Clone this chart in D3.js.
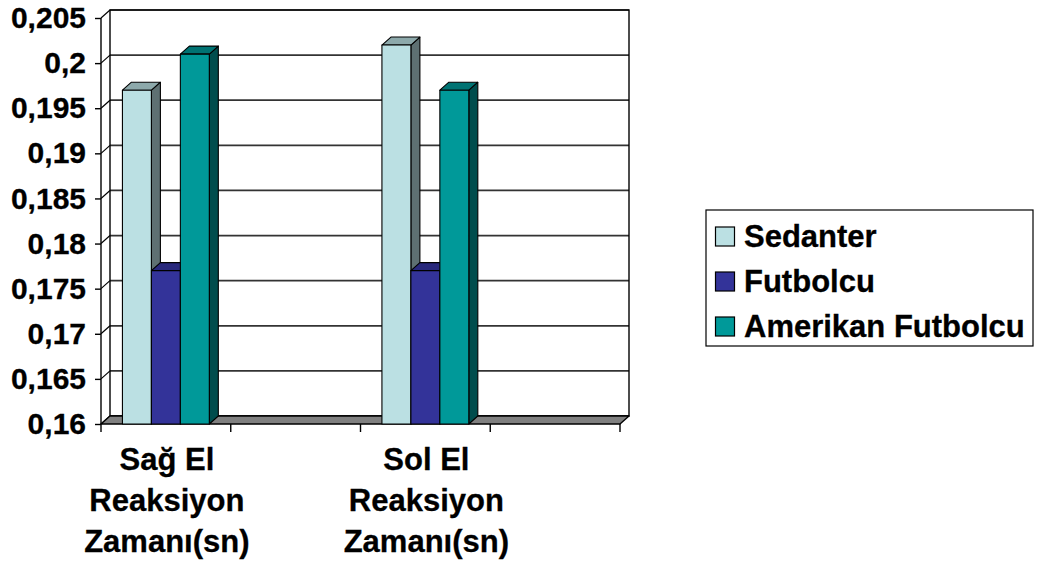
<!DOCTYPE html>
<html>
<head>
<meta charset="utf-8">
<script src="https://cdn.jsdelivr.net/npm/d3@7"></script>
<style>
  html, body { margin: 0; padding: 0; background: #fff; }
  svg { display: block; font-family: "Liberation Sans", Arial, sans-serif; font-weight: bold; }
  text { stroke: #000; stroke-width: 0.3px; }
</style>
</head>
<body>
<svg id="chart" width="1037" height="563"></svg>
<script>
// Category slots along the floor (two slots are left blank)
const categories = ["Sağ El Reaksiyon Zamanı(sn)", "", "Sol El Reaksiyon Zamanı(sn)", ""];
const seriesNames = ["Sedanter", "Futbolcu", "Amerikan Futbolcu"];
// Reaction times (s) per series, one value per category slot (null = empty slot)
const sedanter = [0.197, null, 0.202, null];
const futbolcu = [0.177, null, 0.177, null];
const amerikanFutbolcu = [0.201, null, 0.197, null];
const yTicks = [0.16, 0.165, 0.17, 0.175, 0.18, 0.185, 0.19, 0.195, 0.2, 0.205];

const seriesValues = [sedanter, futbolcu, amerikanFutbolcu];
const palette = [
  { front: "#BBE0E3", side: "#5E7072", top: "#8DA9AB" },
  { front: "#333399", side: "#1A1A4D", top: "#28287C" },
  { front: "#009999", side: "#004D4D", top: "#007373" }
];

const svg = d3.select("#chart");
const plotLeft = 101, plotRight = 620, plotBottom = 424, plotTop = 18;
const dx = 9, dy = -8; // depth offset of the 3-D box

const y = d3.scaleLinear().domain([0.16, 0.205]).range([plotBottom, plotTop]);
const x = d3.scaleBand().domain(d3.range(categories.length)).range([plotLeft, plotRight]).padding(0);
const xs = d3.scaleBand().domain(d3.range(seriesNames.length)).range([0, x.bandwidth()])
  .paddingInner(0).paddingOuter(0.74);

const fmt = v => String(+v.toFixed(3)).replace(".", ",");

// Back wall
svg.append("rect")
  .attr("x", plotLeft + dx).attr("y", plotTop + dy)
  .attr("width", plotRight - plotLeft).attr("height", plotBottom - plotTop)
  .attr("fill", "#fff");

// Gridlines on the back wall
svg.append("g").selectAll("line").data(yTicks).join("line")
  .attr("x1", plotLeft + dx).attr("x2", plotRight + dx)
  .attr("y1", d => y(d) + dy).attr("y2", d => y(d) + dy)
  .attr("stroke", "#333").attr("stroke-width", 1.7);

svg.append("rect")
  .attr("x", plotLeft + dx).attr("y", plotTop + dy)
  .attr("width", plotRight - plotLeft).attr("height", plotBottom - plotTop)
  .attr("fill", "none").attr("stroke", "#000").attr("stroke-width", 1.4);

// Side wall gridlines
svg.append("g").selectAll("line").data(yTicks).join("line")
  .attr("x1", plotLeft).attr("y1", d => y(d))
  .attr("x2", plotLeft + dx).attr("y2", d => y(d) + dy)
  .attr("stroke", "#000").attr("stroke-width", 1.2);

// Floor
svg.append("path")
  .attr("d", `M${plotLeft},${plotBottom}L${plotRight},${plotBottom}L${plotRight + dx},${plotBottom + dy}L${plotLeft + dx},${plotBottom + dy}Z`)
  .attr("fill", "#808080").attr("stroke", "#000").attr("stroke-width", 1.4)
  .attr("stroke-linejoin", "round");

// Bars
const barsG = svg.append("g");
categories.forEach((c, ci) => {
  seriesValues.forEach((vals, si) => {
    const v = vals[ci];
    if (v == null) return;
    const x0 = x(ci) + xs(si), x1 = x0 + xs.bandwidth();
    const yt = y(v), yb = y(0.16);
    const col = palette[si];
    const g = barsG.append("g").attr("stroke", "#000").attr("stroke-width", 1.1).attr("stroke-linejoin", "round");
    g.append("path")
      .attr("d", `M${x1},${yb}L${x1 + dx},${yb + dy}L${x1 + dx},${yt + dy}L${x1},${yt}Z`)
      .attr("fill", col.side);
    g.append("path")
      .attr("d", `M${x0},${yt}L${x0 + dx},${yt + dy}L${x1 + dx},${yt + dy}L${x1},${yt}Z`)
      .attr("fill", col.top);
    g.append("rect")
      .attr("x", x0).attr("y", yt).attr("width", x1 - x0).attr("height", yb - yt)
      .attr("fill", col.front);
  });
});

// Value axis
svg.append("line")
  .attr("x1", plotLeft).attr("x2", plotLeft).attr("y1", plotTop).attr("y2", plotBottom)
  .attr("stroke", "#000").attr("stroke-width", 1.4);
const yAxisG = svg.append("g").attr("transform", `translate(${plotLeft},0)`)
  .call(d3.axisLeft(y).tickValues(yTicks).tickSize(6).tickPadding(8).tickFormat(fmt));
yAxisG.select(".domain").remove();
yAxisG.selectAll(".tick line").attr("stroke", "#000").attr("stroke-width", 1.4);
yAxisG.selectAll(".tick text")
  .attr("font-family", "Liberation Sans, Arial, sans-serif")
  .attr("font-weight", "bold").attr("font-size", 30).attr("fill", "#000")
  .attr("dx", -1);

// Category axis ticks
const catEdges = d3.range(categories.length + 1).map(i => plotLeft + i * x.step());
svg.append("g").selectAll("line").data(catEdges).join("line")
  .attr("x1", d => d).attr("x2", d => d).attr("y1", plotBottom).attr("y2", plotBottom + 8)
  .attr("stroke", "#000").attr("stroke-width", 1.4);

// Category labels, word-wrapped to the slot width
const labelG = svg.append("g");
categories.forEach((c, ci) => {
  if (!c) return;
  const cx = x(ci) + x.bandwidth() / 2 + 1;
  const t = labelG.append("text")
    .attr("x", cx).attr("y", 470)
    .attr("text-anchor", "middle").attr("font-size", 31).attr("fill", "#000");
  const words = c.split(" ");
  const lines = [];
  let cur = [];
  const probe = t.append("tspan");
  words.forEach(w => {
    probe.text(cur.concat([w]).join(" "));
    if (cur.length && probe.node().getComputedTextLength() > x.bandwidth()) {
      lines.push(cur.join(" "));
      cur = [w];
    } else cur.push(w);
  });
  lines.push(cur.join(" "));
  probe.remove();
  lines.forEach((ln, li) => {
    t.append("tspan").attr("x", cx).attr("dy", li === 0 ? 0 : 41).text(ln);
  });
});

// Legend
const legend = svg.append("g");
legend.append("rect")
  .attr("x", 706).attr("y", 210).attr("width", 327).attr("height", 136)
  .attr("fill", "#fff").attr("stroke", "#000").attr("stroke-width", 1.2);
seriesNames.forEach((name, i) => {
  const cy = 236.5 + i * 45;
  legend.append("rect")
    .attr("x", 715.5).attr("y", cy - 9.5).attr("width", 19).attr("height", 19)
    .attr("fill", palette[i].front).attr("stroke", "#000").attr("stroke-width", 1.2);
  legend.append("text")
    .attr("x", 744).attr("y", cy + 10.5)
    .attr("font-size", 31).attr("fill", "#000").text(name);
});
</script>
</body>
</html>
